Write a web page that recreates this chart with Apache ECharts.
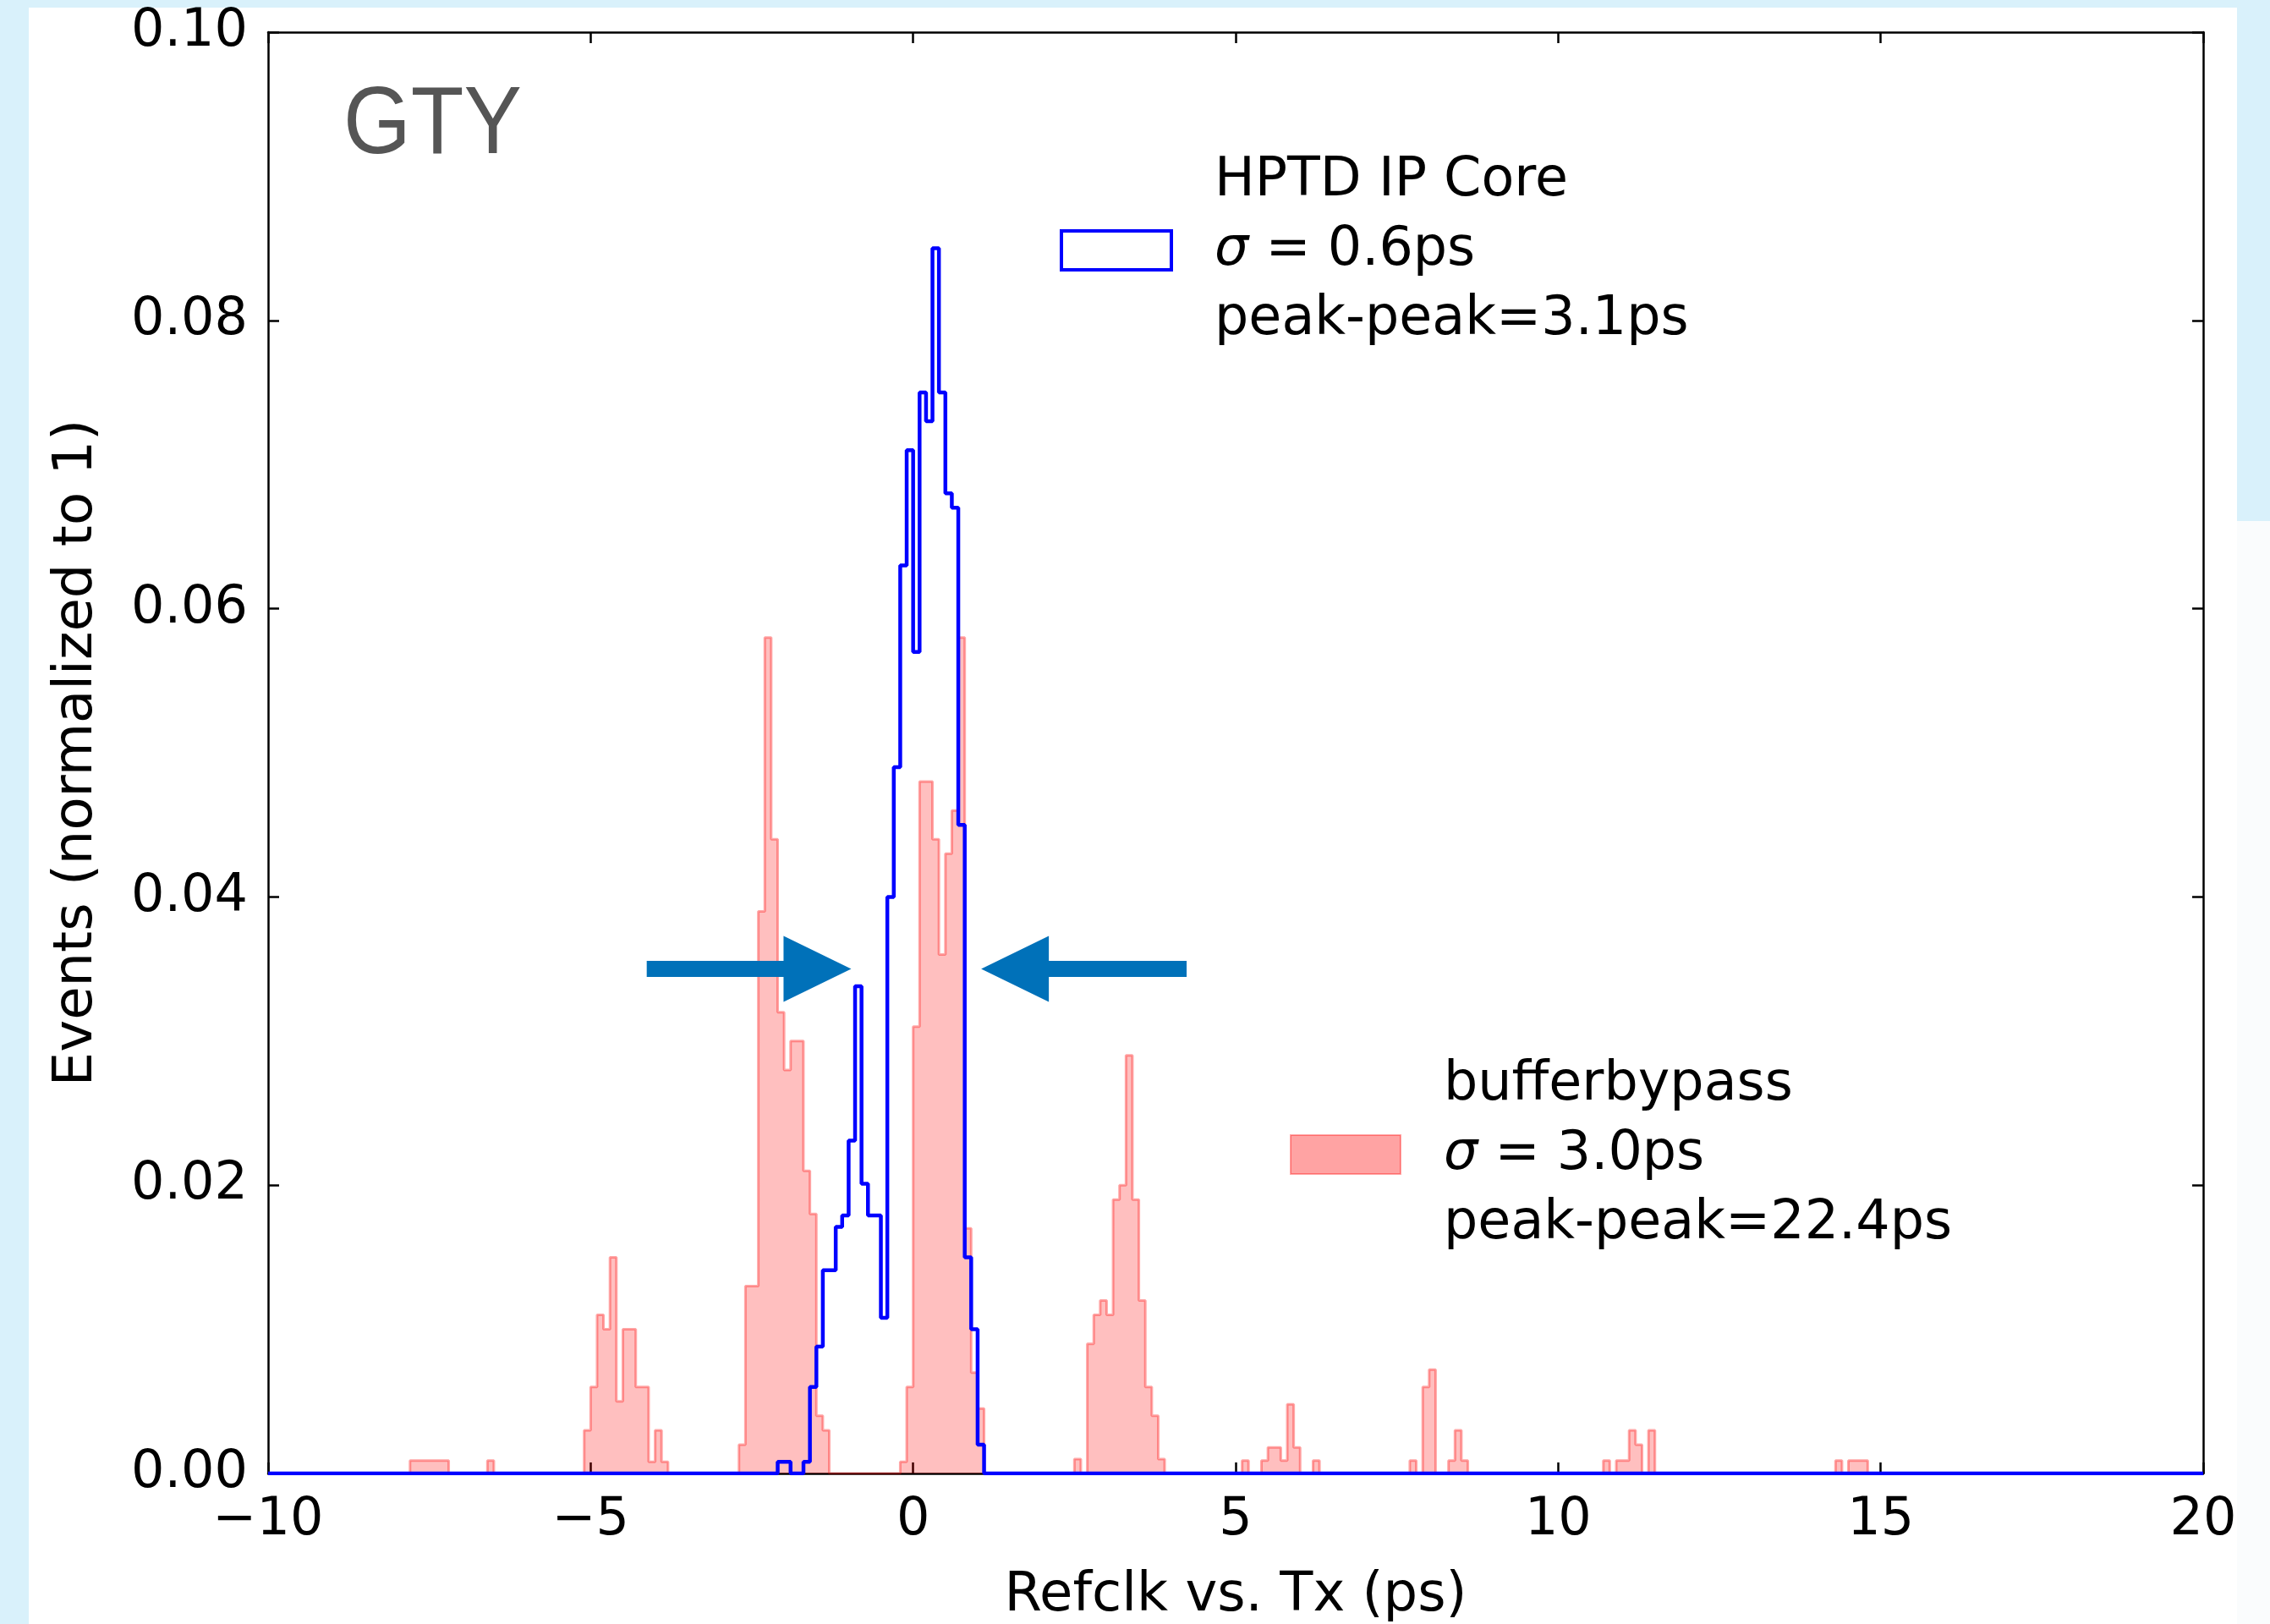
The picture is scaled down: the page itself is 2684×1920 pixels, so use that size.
<!DOCTYPE html>
<html>
<head>
<meta charset="utf-8">
<script src="https://cdn.jsdelivr.net/npm/echarts@6/dist/echarts.min.js"></script>
<style>
  html, body { margin: 0; padding: 0; background: #ffffff; }
  #chart { width: 2684px; height: 1920px; }
</style>
</head>
<body>
<div id="chart"></div>
<script>
// histogram bins: 0.1 ps wide from -10 to 20 ps
var xMin = -10, xMax = 20, binWidth = 0.1;
var yMax = 0.10;

// HPTD IP Core (blue step), heights of consecutive bins starting at hptdStart
var hptdStart = -2.1;
var hptdHeights = [0.0008, 0.0008, 0, 0, 0.0008, 0.006, 0.0088, 0.0141, 0.0141, 0.0171,
  0.0179, 0.0231, 0.0338, 0.0201, 0.0179, 0.0179, 0.0108, 0.040, 0.049, 0.063,
  0.071, 0.057, 0.075, 0.073, 0.085, 0.075, 0.068, 0.067, 0.045, 0.015, 0.010, 0.002];

// bufferbypass (red filled), one small array per cluster of bins
var bbM78 = [0.0009, 0.0009, 0.0009, 0.0009, 0.0009, 0.0009];
var bbM66 = [0.0009];
var bbM51 = [0.003, 0.006, 0.011, 0.010, 0.015, 0.005, 0.010, 0.010, 0.006, 0.006, 0.0008, 0.003, 0.0008];
var bbM27 = [0.002, 0.013, 0.013, 0.039, 0.058, 0.044, 0.032, 0.028, 0.030, 0.030, 0.021, 0.018, 0.004, 0.003];
var bbM02 = [0.0008, 0.006, 0.031, 0.048, 0.048, 0.044, 0.036, 0.043, 0.046, 0.058, 0.017, 0.007, 0.0045];
var bbP25 = [0.001, 0, 0.009, 0.011, 0.012, 0.011, 0.019, 0.020, 0.029, 0.019, 0.012, 0.006, 0.004, 0.001];
var bbP51 = [0.0009, 0, 0, 0.0009, 0.0018, 0.0018, 0.0009, 0.0048, 0.0018, 0, 0, 0.0009];
var bbP77 = [0.0009, 0, 0.006, 0.0072, 0, 0, 0.0009, 0.003, 0.0009];
var bbP107 = [0.0009, 0, 0.0009, 0.0009, 0.003, 0.002, 0, 0.003];
var bbP143 = [0.0009, 0, 0.0009, 0.0009, 0.0009];
var bbStarts = [-7.8, -6.6, -5.1, -2.7, -0.2, 2.5, 5.1, 7.7, 10.7, 14.3];
var bbClusters = [bbM78, bbM66, bbM51, bbM27, bbM02, bbP25, bbP51, bbP77, bbP107, bbP143];

var hptdLegend = ['HPTD IP Core', '{s|σ} = 0.6ps', 'peak-peak=3.1ps'];
var bbLegend = ['bufferbypass', '{s|σ} = 3.0ps', 'peak-peak=22.4ps'];

// annotation arrows (data coords): [tail x, tip x], at height arrowY
var arrowY = 0.035;
var arrowLeft = [-4.13, -0.96];
var arrowRight = [4.24, 1.055];

var nBins = Math.round((xMax - xMin) / binWidth);

function fillBins(starts, groups) {
  var h = [];
  for (var k = 0; k < nBins; k++) h.push(0);
  for (var g = 0; g < groups.length; g++) {
    var i0 = Math.round((starts[g] - xMin) / binWidth);
    for (var j = 0; j < groups[g].length; j++) h[i0 + j] = groups[g][j];
  }
  return h;
}

function stepData(h) {
  var d = [];
  for (var k = 0; k < nBins; k++) d.push([+(xMin + k * binWidth).toFixed(2), h[k]]);
  d.push([xMax, 0]);
  return d;
}

var hptdBins = fillBins([hptdStart], [hptdHeights]);
var bbBins = fillBins(bbStarts, bbClusters);

var font = 'DejaVu Sans';
var fs = 62;

var myChart = echarts.init(document.getElementById('chart'));

function axisX(pos, showLabel) {
  return {
    type: 'value', position: pos, min: xMin, max: xMax, interval: 5,
    axisLine: { onZero: false, lineStyle: { color: '#000', width: 2.5 } },
    axisTick: { inside: true, length: 13, lineStyle: { color: '#000', width: 2.5 } },
    splitLine: { show: false },
    axisLabel: {
      show: showLabel, margin: 25, color: '#000', fontFamily: font, fontSize: fs,
      formatter: function (v) { return v < 0 ? '\u2212' + Math.abs(v) : String(v); }
    }
  };
}
function axisY(pos, showLabel) {
  return {
    type: 'value', position: pos, min: 0, max: yMax, interval: 0.02,
    axisLine: { onZero: false, lineStyle: { color: '#000', width: 2.5 } },
    axisTick: { inside: true, length: 13, lineStyle: { color: '#000', width: 2.5 } },
    splitLine: { show: false },
    axisLabel: {
      show: showLabel, margin: 24, color: '#000', fontFamily: font, fontSize: fs,
      formatter: function (v) { return v.toFixed(2); }
    }
  };
}

var xBottom = axisX('bottom', true);
xBottom.name = 'Refclk vs. Tx (ps)';
xBottom.nameLocation = 'middle';
xBottom.nameGap = 113;
xBottom.nameTextStyle = { color: '#000', fontFamily: font, fontSize: 64 };
var yLeft = axisY('left', true);
yLeft.name = 'Events (normalized to 1)';
yLeft.nameLocation = 'middle';
yLeft.nameGap = 194;
yLeft.nameTextStyle = { color: '#000', fontFamily: font, fontSize: 64 };

var lfs = 63.5;
var rich = { s: { fontStyle: 'italic', fontFamily: font, fontSize: lfs, lineHeight: 82, color: '#000' } };
function legendText(name) {
  return (name === 'HPTD IP Core' ? hptdLegend : bbLegend).join('\n');
}
function legendOpt(item, left, top) {
  return {
    selectedMode: false, data: [item], left: left, top: top, padding: 0,
    itemWidth: 130, itemHeight: 46, formatter: legendText,
    textStyle: { color: '#000', fontFamily: font, fontSize: lfs, lineHeight: 82, padding: [0, 0, 0, 46], rich: rich }
  };
}

var pinkFill = 'rgba(255,0,0,0.36)';
var pinkEdge = 'rgba(255,0,0,0.34)';

var option = {
  animation: false,
  backgroundColor: '#d9f1fb',
  grid: { left: 317, right: 79, top: 38, bottom: 178, containLabel: false, outerBoundsMode: 'none' },
  xAxis: [xBottom, axisX('top', false)],
  yAxis: [yLeft, axisY('right', false)],
  legend: [
    legendOpt({ name: 'HPTD IP Core', icon: 'rect',
      itemStyle: { color: '#ffffff', borderColor: '#0000ff', borderWidth: 4 } }, 1253, 173),
    legendOpt({ name: 'bufferbypass', icon: 'rect',
      itemStyle: { color: pinkFill, borderColor: pinkEdge, borderWidth: 2 } }, 1525, 1242)
  ],
  series: [
    {
      name: 'bufferbypass', type: 'line', step: 'end', symbol: 'none', z: 2,
      data: stepData(bbBins),
      lineStyle: { color: pinkEdge, width: 3 },
      itemStyle: { color: pinkFill },
      areaStyle: { color: pinkFill, origin: 'start' }
    },
    {
      name: 'HPTD IP Core', type: 'line', step: 'end', symbol: 'none', z: 3,
      data: stepData(hptdBins),
      lineStyle: { color: '#0000ff', width: 4.5 },
      itemStyle: { color: '#0000ff' }
    }
  ]
};
myChart.setOption(option);

// blue arrows placed from data coordinates
function arrowPoints(tailX, tipX) {
  var tail = myChart.convertToPixel({ gridIndex: 0 }, [tailX, arrowY]);
  var tip = myChart.convertToPixel({ gridIndex: 0 }, [tipX, arrowY]);
  var d = tip[0] > tail[0] ? 1 : -1;
  var headLen = 80, headHalf = 39, shaftHalf = 9.5;
  var b = tip[0] - d * headLen, y = tip[1];
  return [[tail[0], y - shaftHalf], [b, y - shaftHalf], [b, y - headHalf], [tip[0], y],
    [b, y + headHalf], [b, y + shaftHalf], [tail[0], y + shaftHalf]];
}
myChart.setOption({
  graphic: [
    { type: 'rect', z: -10, silent: true, shape: { x: 34, y: 9, width: 2611, height: 1911 }, style: { fill: '#ffffff' } },
    { type: 'rect', z: -10, silent: true, shape: { x: 2645, y: 616, width: 39, height: 1304 }, style: { fill: '#fafcfd' } },
    { type: 'text', z: 100, silent: true, x: 406, y: 150, scaleX: 0.9,
      style: { text: 'GTY', fill: '#555555', font: '114px "Liberation Sans"', verticalAlign: 'middle', align: 'left' } },
    { type: 'polygon', z: 100, silent: true, shape: { points: arrowPoints(arrowLeft[0], arrowLeft[1]) }, style: { fill: '#0071b9' } },
    { type: 'polygon', z: 100, silent: true, shape: { points: arrowPoints(arrowRight[0], arrowRight[1]) }, style: { fill: '#0071b9' } }
  ]
});
</script>
</body>
</html>
